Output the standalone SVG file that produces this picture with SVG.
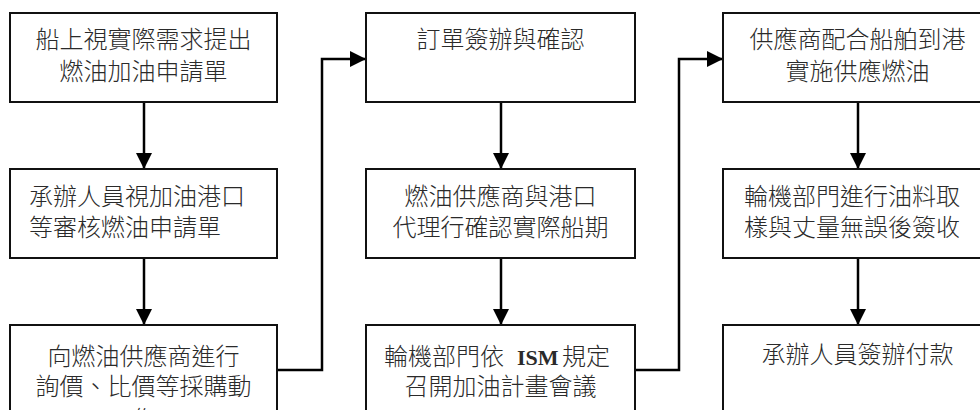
<svg xmlns="http://www.w3.org/2000/svg" width="980" height="410" viewBox="0 0 980 410">
<style>
.box{fill:#fff;stroke:#111;stroke-width:2}
.t{font-family:"Liberation Serif","Noto Sans CJK TC",serif;font-size:24px;font-weight:300;fill:#2a2a2a}
.c{text-anchor:middle}
.ism{font-family:"Liberation Serif",serif;font-weight:bold;font-size:22px}
.edge{fill:none;stroke:#000;stroke-width:2.5}
</style>
<defs>
<marker id="arr" markerUnits="userSpaceOnUse" markerWidth="16" markerHeight="16" refX="16" refY="8" orient="auto">
<path d="M0,0 L16,8 L0,16 z" fill="#000"/>
</marker>
</defs>
<rect width="980" height="410" fill="#fff"/>
<g id="connectors">
<path class="edge" d="M144,102 V169" marker-end="url(#arr)"/>
<path class="edge" d="M144,258 V325" marker-end="url(#arr)"/>
<path class="edge" d="M277,370 H322 V59 H366" marker-end="url(#arr)"/>
<path class="edge" d="M501,102 V169" marker-end="url(#arr)"/>
<path class="edge" d="M501,258 V325" marker-end="url(#arr)"/>
<path class="edge" d="M635,370 H679 V59 H723" marker-end="url(#arr)"/>
<path class="edge" d="M858,102 V169" marker-end="url(#arr)"/>
<path class="edge" d="M858,258 V325" marker-end="url(#arr)"/>
</g>
<g id="n1">
<rect class="box" x="10" y="13" width="267" height="89"/>
<text class="t c" x="143.5" y="48">船上視實際需求提出</text>
<text class="t c" x="143.5" y="80">燃油加油申請單</text>
</g>
<g id="n2">
<rect class="box" x="10" y="169" width="267" height="89"/>
<text class="t" x="29" y="205">承辦人員視加油港口</text>
<text class="t" x="29" y="236">等審核燃油申請單</text>
</g>
<g id="n3">
<rect class="box" x="10" y="325" width="267" height="89"/>
<text class="t c" x="143.5" y="365">向燃油供應商進行</text>
<text class="t c" x="143.5" y="395">詢價、比價等採購動</text>
<text class="t c" x="143.5" y="428">作</text>
</g>
<g id="n4">
<rect class="box" x="366" y="13" width="269" height="89"/>
<text class="t c" x="500.5" y="48">訂單簽辦與確認</text>
</g>
<g id="n5">
<rect class="box" x="366" y="169" width="269" height="89"/>
<text class="t c" x="500.5" y="205">燃油供應商與港口</text>
<text class="t c" x="500.5" y="236">代理行確認實際船期</text>
</g>
<g id="n6">
<rect class="box" x="366" y="325" width="269" height="89"/>
<text class="t" y="365"><tspan x="384">輪機部門依</tspan><tspan class="ism" x="517">ISM</tspan><tspan x="562">規定</tspan></text>
<text class="t c" x="500.5" y="395">召開加油計畫會議</text>
</g>
<g id="n7">
<rect class="box" x="723" y="13" width="269" height="89"/>
<text class="t c" x="857.5" y="48">供應商配合船舶到港</text>
<text class="t c" x="857.5" y="80">實施供應燃油</text>
</g>
<g id="n8">
<rect class="box" x="723" y="169" width="269" height="89"/>
<text class="t" x="744" y="205">輪機部門進行油料取</text>
<text class="t" x="744" y="236">樣與丈量無誤後簽收</text>
</g>
<g id="n9">
<rect class="box" x="723" y="325" width="269" height="89"/>
<text class="t c" x="857.5" y="363">承辦人員簽辦付款</text>
</g>
</svg>
